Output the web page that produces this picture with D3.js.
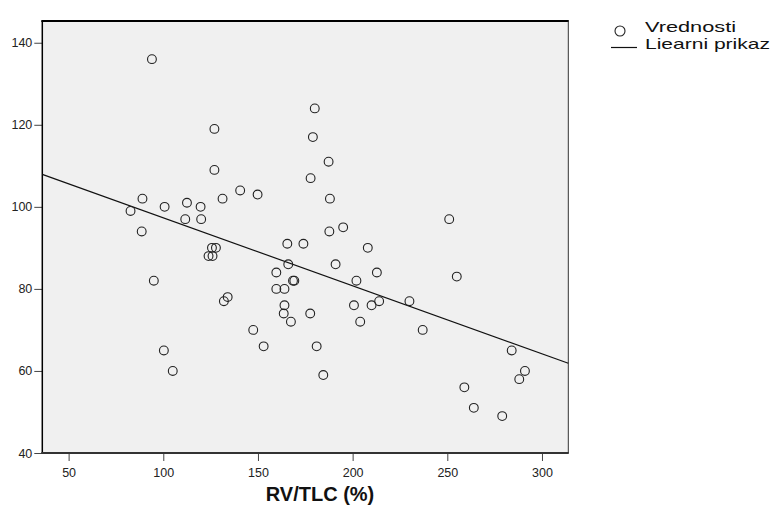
<!DOCTYPE html>
<html>
<head>
<meta charset="utf-8">
<script src="https://cdn.jsdelivr.net/npm/d3@7"></script>
<style>
  body { margin: 0; background: #fff; }
  text { font-family: Arial, "Liberation Sans", sans-serif; }
</style>
</head>
<body>
<svg id="chart" width="771" height="507"></svg>
<script>
// 1. DATA
const rvTlc = [
  94, 82.7, 89, 88.6, 95, 100.7, 112.5, 111.6, 119.7, 120,
  127, 127, 131.3, 140.6, 149.8, 100.3, 105, 125.7, 127.8, 123.9,
  126, 132, 134, 147.5, 153, 159.7, 159.7, 164, 164, 163.6,
  165.5, 166, 167.4, 168.5, 169.2, 174, 177.8, 179, 180, 187.3,
  188, 187.7, 195, 191, 177.6, 181, 184.5, 200.7, 202, 204,
  208, 210, 212.8, 214, 230, 237, 251, 255, 259, 264,
  279, 284, 288, 291
];
const values = [
  136, 99, 102, 94, 82, 100, 101, 97, 100, 97,
  119, 109, 102, 104, 103, 65, 60, 90, 90, 88,
  88, 77, 78, 70, 66, 84, 80, 80, 76, 74,
  91, 86, 72, 82, 82, 91, 107, 117, 124, 111,
  102, 94, 95, 86, 74, 66, 59, 76, 82, 72,
  90, 76, 84, 77, 77, 70, 97, 83, 56, 51,
  49, 65, 58, 60
];
const xTicks = [50, 100, 150, 200, 250, 300];
const yTicks = [40, 60, 80, 100, 120, 140];
const xDomain = [36.1, 313.9];
const yDomain = [40, 145.3];
const fitIntercept = 113.9;
const fitSlope = -0.1657;
const legendLabels = ["Vrednosti", "Liearni prikaz"];
const axisTitle = "RV/TLC (%)";

// 2. LAYOUT
const svg = d3.select("#chart");
const plot = { left: 42.3, right: 568.3, top: 21, bottom: 453 };

const x = d3.scaleLinear().domain(xDomain).range([plot.left, plot.right]);
const y = d3.scaleLinear().domain(yDomain).range([plot.bottom, plot.top]);

svg.append("rect")
  .attr("x", plot.left)
  .attr("y", plot.top)
  .attr("width", plot.right - plot.left)
  .attr("height", plot.bottom - plot.top)
  .attr("fill", "#f0f0f0");

// 3. AXES
const xAxis = svg.append("g")
  .attr("transform", `translate(0,${plot.bottom})`)
  .call(d3.axisBottom(x).tickValues(xTicks).tickSize(8).tickPadding(4));
const yAxis = svg.append("g")
  .attr("transform", `translate(${plot.left},0)`)
  .call(d3.axisLeft(y).tickValues(yTicks).tickSize(8).tickPadding(2));

[xAxis, yAxis].forEach((g) => {
  g.select(".domain").remove();
  g.selectAll(".tick line").attr("stroke", "#444");
  g.selectAll(".tick text")
    .attr("fill", "#222")
    .style("font-size", "12.5px")
    .style("font-family", "Arial, 'Liberation Sans', sans-serif");
});
xAxis.selectAll(".tick text").attr("dy", "0.95em");

// frame: dark top/left/bottom, thin right
svg.append("line")
  .attr("x1", plot.left - 1).attr("x2", plot.right + 0.5)
  .attr("y1", plot.top).attr("y2", plot.top)
  .attr("stroke", "#000").attr("stroke-width", 2);
svg.append("line")
  .attr("x1", plot.left).attr("x2", plot.left)
  .attr("y1", plot.top).attr("y2", plot.bottom)
  .attr("stroke", "#000").attr("stroke-width", 1.5);
svg.append("line")
  .attr("x1", plot.left - 1).attr("x2", plot.right + 0.5)
  .attr("y1", plot.bottom).attr("y2", plot.bottom)
  .attr("stroke", "#333").attr("stroke-width", 2);
svg.append("line")
  .attr("x1", plot.right).attr("x2", plot.right)
  .attr("y1", plot.top).attr("y2", plot.bottom)
  .attr("stroke", "#333").attr("stroke-width", 1);

svg.append("text")
  .attr("x", 320)
  .attr("y", 501)
  .attr("text-anchor", "middle")
  .attr("fill", "#111")
  .style("font-size", "20px")
  .style("font-weight", "bold")
  .text(axisTitle);

// 4. FIT LINE + POINTS
svg.append("line")
  .attr("x1", x(xDomain[0]))
  .attr("y1", y(fitIntercept + fitSlope * xDomain[0]))
  .attr("x2", x(xDomain[1]))
  .attr("y2", y(fitIntercept + fitSlope * xDomain[1]))
  .attr("stroke", "#111")
  .attr("stroke-width", 1.2);

svg.append("g")
  .selectAll("circle")
  .data(rvTlc.map((v, i) => [v, values[i]]))
  .enter()
  .append("circle")
  .attr("cx", (d) => x(d[0]))
  .attr("cy", (d) => y(d[1]))
  .attr("r", 4.4)
  .attr("fill", "none")
  .attr("stroke", "#222")
  .attr("stroke-width", 1.1);

// 5. LEGEND (wide lettering, as in the original)
const legend = svg.append("g");
legend.append("circle")
  .attr("cx", 620).attr("cy", 31).attr("r", 5)
  .attr("fill", "none").attr("stroke", "#222").attr("stroke-width", 1.1);
legend.append("line")
  .attr("x1", 611).attr("x2", 637)
  .attr("y1", 47.5).attr("y2", 47.5)
  .attr("stroke", "#111").attr("stroke-width", 1.2);
const legendWidths = [91, 125];
legend.selectAll("text.lbl")
  .data(legendLabels)
  .enter()
  .append("text")
  .attr("class", "lbl")
  .attr("x", 645)
  .attr("y", (d, i) => 32 + i * 17.3)
  .attr("fill", "#111")
  .attr("textLength", (d, i) => legendWidths[i])
  .attr("lengthAdjust", "spacingAndGlyphs")
  .style("font-size", "15px")
  .text((d) => d);
</script>
</body>
</html>
